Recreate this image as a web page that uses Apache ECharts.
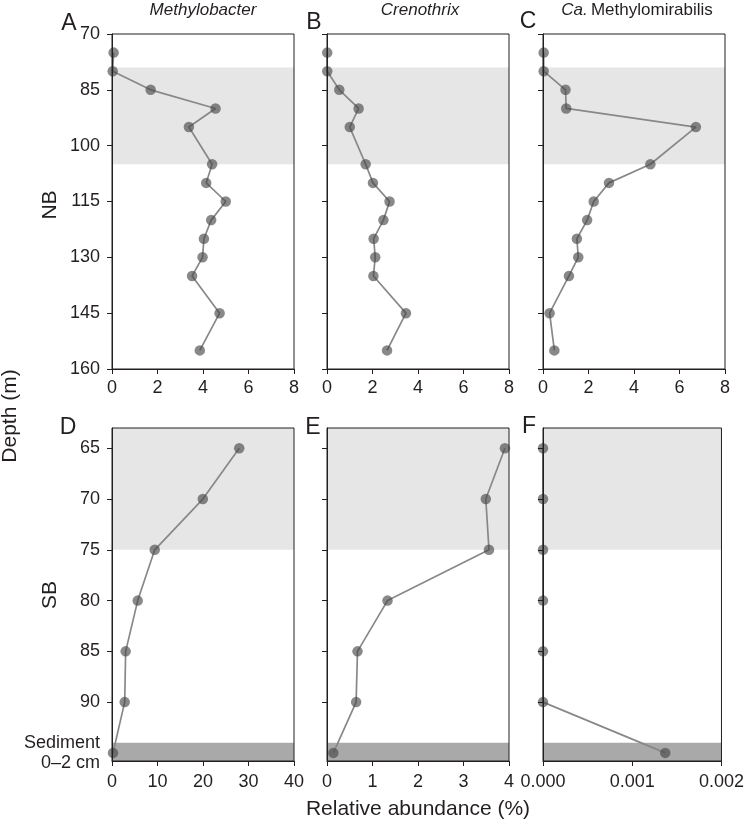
<!DOCTYPE html>
<html>
<head>
<meta charset="utf-8">
<script src="https://cdn.jsdelivr.net/npm/echarts@6/dist/echarts.min.js"></script>
<style>html,body{margin:0;padding:0;background:#fff}#c{width:747px;height:823px}</style>
</head>
<body>
<div id="c"></div>
<script>
// ---- data ----
const nbDepth = [75, 80, 85, 90, 95, 105, 110, 115, 120, 125, 130, 135, 145, 155];
const nbMethylobacter = [0.07, 0.03, 1.7, 4.55, 3.38, 4.4, 4.14, 5.0, 4.36, 4.04, 3.98, 3.52, 4.73, 3.86];
const nbCrenothrix = [0.01, 0.01, 0.54, 1.39, 1.0, 1.7, 2.02, 2.75, 2.48, 2.05, 2.12, 2.04, 3.47, 2.64];
const nbMethylomirabilis = [0.03, 0.03, 0.99, 1.02, 6.72, 4.72, 2.9, 2.23, 1.94, 1.49, 1.55, 1.14, 0.29, 0.5];

const sbDepth = [65, 70, 75, 80, 85, 90, 95];
const sbMethylobacter = [27.96, 19.96, 9.39, 5.65, 3.0, 2.79, 0.22];
const sbCrenothrix = [3.91, 3.49, 3.56, 1.33, 0.67, 0.64, 0.14];
const sbMethylomirabilis = [0, 0, 0, 0, 0, 0, 0.00137];

const nbYTicks = [70, 85, 100, 115, 130, 145, 160];
const sbYTicks = [65, 70, 75, 80, 85, 90];
const sbYLabels = [65, 70, 75, 80, 85, 90, 95];
const sedimentLabel = 'Sediment\n0\u20132 cm';
const nbRange = [70, 160];
const sbRange = [63, 95.8];
const nbBand = [79, 105];
const sbBand = [63, 75];
const sedimentBand = [94, 95.8];

const xMaxTop = [8, 8, 8];
const xIntTop = [2, 2, 2];
const xMaxBottom = [40, 4, 0.002];
const xIntBottom = [10, 1, 0.001];

const panelLetters = ['A', 'B', 'C', 'D', 'E', 'F'];

// ---- styles ----
const FONT = 'Liberation Sans, Arial, Helvetica, sans-serif';
const INK = '#231f20';
const LIGHT = '#e6e6e6';
const DARK = '#a9a9a9';
const LINE = '#888888';
const PT = 'rgba(70,70,70,0.64)';

const lefts = [112, 327, 543];
const W = 182;
const tops = [34, 428];
const heights = [335, 333];

const grids = [];
const xAxes = [];
const yAxes = [];
const series = [];

function pairs(xs, ys) { return xs.map((x, i) => [x, ys[i]]); }

for (let r = 0; r < 2; r++) {
  for (let c = 0; c < 3; c++) {
    const gi = r * 3 + c;
    grids.push({ left: lefts[c], top: tops[r], width: W, height: heights[r], show: true,
      borderColor: INK, borderWidth: 1, backgroundColor: 'transparent', z: 10 });
    const xmax = r === 0 ? xMaxTop[c] : xMaxBottom[c];
    const xint = r === 0 ? xIntTop[c] : xIntBottom[c];
    xAxes.push({ type: 'value', gridIndex: gi, min: 0, max: xmax, interval: xint, z: 10,
      axisLine: { show: true, lineStyle: { color: INK, width: 1 } },
      axisTick: { show: true, length: 5, lineStyle: { color: INK } },
      splitLine: { show: false },
      axisLabel: { margin: r === 0 ? 10 : 12, fontSize: 18, color: INK, fontFamily: FONT,
        formatter: (r === 1 && c === 2) ? (v => v.toFixed(3)) : (v => String(v)) } });
    const isTop = r === 0;
    yAxes.push({ type: 'value', gridIndex: gi, inverse: true,
      min: isTop ? nbRange[0] : sbRange[0], max: isTop ? nbRange[1] : sbRange[1], z: 10,
      axisLine: { show: true, lineStyle: { color: INK, width: 1 } },
      axisTick: { show: true, length: 5, lineStyle: { color: INK }, customValues: isTop ? nbYTicks : sbYTicks },
      splitLine: { show: false },
      axisLabel: { show: c === 0, margin: 12, fontSize: 18, color: INK, fontFamily: FONT,
        lineHeight: 20, align: 'right',
        customValues: isTop ? nbYTicks : sbYLabels,
        formatter: v => (v === 95 && !isTop) ? sedimentLabel : String(v) } });
    let xs, ys, areas;
    if (isTop) {
      xs = [nbMethylobacter, nbCrenothrix, nbMethylomirabilis][c];
      ys = nbDepth;
      areas = [[{ yAxis: nbBand[0], itemStyle: { color: LIGHT } }, { yAxis: nbBand[1] }]];
    } else {
      xs = [sbMethylobacter, sbCrenothrix, sbMethylomirabilis][c];
      ys = sbDepth;
      areas = [
        [{ yAxis: sbBand[0], itemStyle: { color: LIGHT } }, { yAxis: sbBand[1] }],
        [{ yAxis: sedimentBand[0], itemStyle: { color: DARK } }, { yAxis: sedimentBand[1] }]
      ];
    }
    series.push({ type: 'line', xAxisIndex: gi, yAxisIndex: gi, data: pairs(xs, ys),
      symbol: 'circle', symbolSize: 10.5, showAllSymbol: true, clip: false, animation: false,
      lineStyle: { color: LINE, width: 1.7 },
      itemStyle: { color: PT, borderWidth: 0 },
      emphasis: { disabled: true },
      markArea: { silent: true, data: areas, label: { show: false } } });
  }
}

const letterPos = [[69, 24], [314, 23], [528, 22], [68, 428], [313, 428], [529, 427]];
const graphics = letterPos.map((p, i) => ({ type: 'text', x: p[0], y: p[1],
  style: { text: panelLetters[i], font: '23px ' + FONT, fill: INK, align: 'center', verticalAlign: 'middle' } }));

graphics.push({ type: 'text', x: 203, y: 10, style: { text: 'Methylobacter', font: 'italic 17px ' + FONT, fill: INK, align: 'center', verticalAlign: 'middle' } });
graphics.push({ type: 'text', x: 420, y: 10, style: { text: 'Crenothrix', font: 'italic 17px ' + FONT, fill: INK, align: 'center', verticalAlign: 'middle' } });
graphics.push({ type: 'text', x: 637, y: 10, style: { text: '{i|Ca.} {n|Methylomirabilis}', align: 'center', verticalAlign: 'middle',
  rich: { i: { font: 'italic 17px ' + FONT, fill: INK }, n: { font: '17px ' + FONT, fill: INK } } } });
graphics.push({ type: 'text', x: 50, y: 205, rotation: Math.PI / 2, style: { text: 'NB', font: '21px ' + FONT, fill: INK, align: 'center', verticalAlign: 'middle' } });
graphics.push({ type: 'text', x: 50, y: 595, rotation: Math.PI / 2, style: { text: 'SB', font: '21px ' + FONT, fill: INK, align: 'center', verticalAlign: 'middle' } });
graphics.push({ type: 'text', x: 10, y: 416, rotation: Math.PI / 2, style: { text: 'Depth (m)', font: '21px ' + FONT, fill: INK, align: 'center', verticalAlign: 'middle' } });
graphics.push({ type: 'text', x: 418, y: 809, style: { text: 'Relative abundance (%)', font: '21px ' + FONT, fill: INK, align: 'center', verticalAlign: 'middle' } });

const chart = echarts.init(document.getElementById('c'), null, { renderer: 'canvas' });
chart.setOption({ animation: false, grid: grids, xAxis: xAxes, yAxis: yAxes, series: series, graphic: graphics });
</script>
</body>
</html>
